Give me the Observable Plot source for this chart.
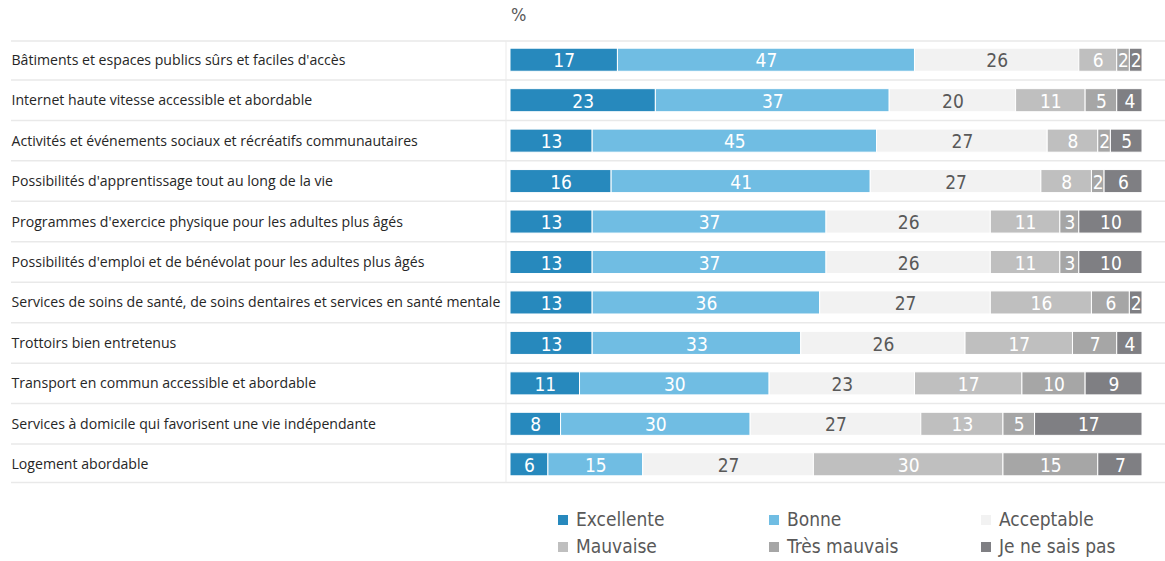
<!DOCTYPE html>
<html><head><meta charset="utf-8">
<script src="https://cdn.jsdelivr.net/npm/d3@7"></script>
<script src="https://cdn.jsdelivr.net/npm/@observablehq/plot@0.6"></script>
<style>
body{margin:0;background:#fff;}
#wrap{position:relative;width:1165px;height:561px;overflow:hidden;}
#pct{position:absolute;left:511px;top:4px;font-size:18px;font-family:"Liberation Sans Narrow","DejaVu Sans Condensed",sans-serif;color:#595959;}
#chart{position:absolute;left:0;top:0;}
#legend{position:absolute;left:558px;top:506px;display:grid;grid-template-columns:211px 212px 170px;font-family:"Liberation Sans Narrow","DejaVu Sans Condensed",sans-serif;font-size:19px;color:#595959;line-height:27px;}
#legend .item{display:flex;align-items:center;white-space:nowrap;}
#legend .sw{width:10px;height:10px;margin-right:8px;display:inline-block;}
</style>
</head><body>
<div id="wrap">
<div id="chart"></div>
<div id="pct">%</div>
<div id="legend"></div>
</div>
<script>
const categories = [
  "Bâtiments et espaces publics sûrs et faciles d'accès",
  "Internet haute vitesse accessible et abordable",
  "Activités et événements sociaux et récréatifs communautaires",
  "Possibilités d'apprentissage tout au long de la vie",
  "Programmes d'exercice physique pour les adultes plus âgés",
  "Possibilités d'emploi et de bénévolat pour les adultes plus âgés",
  "Services de soins de santé, de soins dentaires et services en santé mentale",
  "Trottoirs bien entretenus",
  "Transport en commun accessible et abordable",
  "Services à domicile qui favorisent une vie indépendante",
  "Logement abordable"
];
const series = ["Excellente","Bonne","Acceptable","Mauvaise","Très mauvais","Je ne sais pas"];
const colors = ["#2789bd","#70bde3","#f2f2f2","#bfbfbf","#a6a6a6","#7f7f83"];
const excellente   = [17,23,13,16,13,13,13,13,11, 8, 6];
const bonne        = [47,37,45,41,37,37,36,33,30,30,15];
const acceptable   = [26,20,27,27,26,26,27,26,23,27,27];
const mauvaise     = [ 6,11, 8, 8,11,11,16,17,17,13,30];
const tresMauvais  = [ 2, 5, 2, 2, 3, 3, 6, 7,10, 5,15];
const neSaisPas    = [ 2, 4, 5, 6,10,10, 2, 4, 9,17, 7];
const seriesValues = [excellente, bonne, acceptable, mauvaise, tresMauvais, neSaisPas];

const data = [];
categories.forEach((cat, i) => {
  series.forEach((s, j) => data.push({cat, series: s, value: seriesValues[j][i]}));
});

const narrow = '"Liberation Sans Narrow","DejaVu Sans Condensed",sans-serif';

const chart = Plot.plot({
  width: 1165, height: 492,
  marginLeft: 510, marginRight: 23, marginTop: 39.5, marginBottom: 7.5,
  x: {domain: [0, 100], axis: null},
  y: {domain: categories, paddingInner: 0.43, paddingOuter: 0.215, round: false, axis: null},
  color: {domain: series, range: colors},
  marks: [
    Plot.barX(data, {x: "value", y: "cat", z: "series", fill: "series", stroke: "white", strokeWidth: 1}),
    Plot.text(data, Plot.stackX({x: "value", y: "cat", z: "series",
      text: d => d.series === "Acceptable" ? "" : String(d.value),
      fill: "white", fontSize: 19, fontFamily: narrow, dy: 1})),
    Plot.text(data, Plot.stackX({x: "value", y: "cat", z: "series",
      text: d => d.series === "Acceptable" ? String(d.value) : "",
      fill: "#595959", fontSize: 19, fontFamily: narrow, dy: 1})),
    Plot.text(categories, {y: d => d, text: d => d, frameAnchor: "left", dx: -499, textAnchor: "start",
      fill: "#262626", fontSize: 14.1, fontFamily: "Open Sans"})
  ]
});

// row separators drawn from the y scale
const ys = chart.scale("y");
const svg = d3.select(chart);
const g = svg.insert("g", ":first-child");
const centers = categories.map(c => ys.apply(c) + ys.bandwidth / 2);
const bounds = [centers[0] - ys.step * 0.46]
  .concat(centers.slice(0, -1).map((c, i) => (c + centers[i + 1]) / 2))
  .concat([centers[centers.length - 1] + ys.step * 0.45]);
g.selectAll("line.h").data(bounds).join("line")
  .attr("x1", 11).attr("x2", 1165)
  .attr("y1", d => d).attr("y2", d => d)
  .attr("stroke", "#e9e9e9").attr("stroke-width", 1.5);
g.append("line")
  .attr("x1", 506).attr("x2", 506)
  .attr("y1", bounds[0]).attr("y2", bounds[bounds.length - 1])
  .attr("stroke", "#ebebeb").attr("stroke-width", 1);

document.getElementById("chart").append(chart);

const legend = d3.select("#legend");
series.forEach((s, i) => {
  const it = legend.append("div").attr("class", "item");
  it.append("span").attr("class", "sw").style("background", colors[i]);
  it.append("span").text(s);
});
</script>
</body></html>
